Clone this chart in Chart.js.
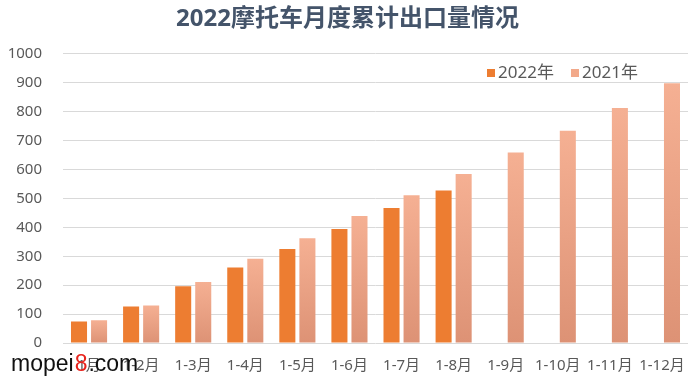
<!DOCTYPE html>
<html>
<head>
<meta charset="utf-8">
<script src="https://cdn.jsdelivr.net/npm/chart.js@4/dist/chart.umd.min.js"></script>
<style>
    html, body { margin: 0; padding: 0; background: #fff; }
    #wrap { width: 700px; height: 386px; }
</style>
</head>
<body>
<div id="wrap"><canvas id="exportChart"></canvas></div>
<script>
const months = ["1月", "1-2月", "1-3月", "1-4月", "1-5月", "1-6月", "1-7月", "1-8月", "1-9月", "1-10月", "1-11月", "1-12月"];
const exports2022 = [74, 126, 196, 261, 325, 394, 467, 527, null, null, null, null];
const exports2021 = [79, 130, 211, 291, 362, 439, 511, 584, 659, 734, 813, 898];
const yTicks = [0, 100, 200, 300, 400, 500, 600, 700, 800, 900, 1000];

const FONT = "'Noto Sans', 'Noto Sans CJK SC', sans-serif";

// gradient for each 2021 bar, light at the top, darker at the base
function barGradient(context) {
    const chart = context.chart;
    const { ctx, chartArea } = chart;
    const y = chart.scales.y;
    if (!chartArea || !y || context.raw == null) return "#F2A98A";
    const top = y.getPixelForValue(context.raw);
    const bottom = y.getPixelForValue(0);
    if (!isFinite(top) || !isFinite(bottom) || top === bottom) return "#F2A98A";
    const g = ctx.createLinearGradient(0, top, 0, bottom);
    g.addColorStop(0, "#F5B093");
    g.addColorStop(1, "#DD9275");
    return g;
}

// legend drawn inside the plot, top right
const legendPlugin = {
    id: "innerLegend",
    afterDraw(chart) {
        const { ctx } = chart;
        const items = [
            { text: "2022年", color: "#ED7D31", x: 487 },
            { text: "2021年", color: "#F2A98A", x: 571 },
        ];
        ctx.save();
        ctx.font = "17px " + FONT;
        ctx.textBaseline = "middle";
        items.forEach((it) => {
            ctx.fillStyle = it.color;
            ctx.fillRect(it.x, 69, 8, 8);
            ctx.fillStyle = "#595959";
            ctx.fillText(it.text, it.x + 11, 73);
        });
        ctx.restore();
    },
};

// site watermark over the bottom-left corner
const watermarkPlugin = {
    id: "watermark",
    afterDraw(chart) {
        const { ctx } = chart;
        ctx.save();
        ctx.font = "23px 'Liberation Sans', Arial, sans-serif";
        ctx.textBaseline = "alphabetic";
        let x = 11;
        const parts = [["mopei", "#111111"], ["8", "#E8231C"], [".com", "#111111"]];
        parts.forEach(([t, c]) => {
            ctx.fillStyle = c;
            ctx.fillText(t, x, 371);
            x += ctx.measureText(t).width + 1;
        });
        ctx.restore();
    },
};

new Chart(document.getElementById("exportChart"), {
    type: "bar",
    data: {
        labels: months,
        datasets: [
            {
                label: "2022年",
                data: exports2022,
                backgroundColor: "#ED7D31",
                categoryPercentage: 0.77,
                barPercentage: 0.8,
            },
            {
                label: "2021年",
                data: exports2021,
                backgroundColor: barGradient,
                categoryPercentage: 0.77,
                barPercentage: 0.8,
            },
        ],
    },
    options: {
        responsive: true,
        maintainAspectRatio: false,
        animation: false,
        layout: {
            padding: { left: 7, right: 12, top: 0, bottom: -3 },
        },
        scales: {
            x: {
                grid: { display: false, drawTicks: false },
                border: { display: false },
                ticks: {
                    color: "#595959",
                    font: { family: FONT, size: 15 },
                    padding: 14,
                    maxRotation: 0,
                    autoSkip: false,
                },
            },
            y: {
                min: 0,
                max: 1000,
                afterBuildTicks: (axis) => {
                    axis.ticks = yTicks.map((v) => ({ value: v }));
                },
                afterFit: (axis) => {
                    axis.width = 56;
                },
                grid: { color: "#D9D9D9", drawTicks: false },
                border: { display: false },
                ticks: {
                    color: "#595959",
                    font: { family: FONT, size: 15 },
                    padding: 21,
                    callback: (v) => String(v),
                },
            },
        },
        plugins: {
            legend: { display: false },
            tooltip: { enabled: false },
            title: {
                display: true,
                text: "2022摩托车月度累计出口量情况",
                color: "#44546A",
                font: { family: FONT, size: 24, weight: "bold" },
                padding: { top: 5, bottom: 20 },
            },
        },
    },
    plugins: [legendPlugin, watermarkPlugin],
});
</script>
</body>
</html>
